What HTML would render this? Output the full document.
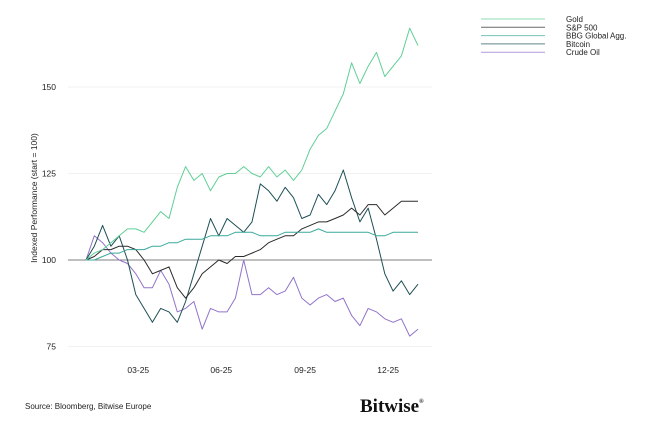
<!DOCTYPE html>
<html><head><meta charset="utf-8"><style>
body{margin:0;background:#fff;font-family:"Liberation Sans",sans-serif}
svg{display:block}
</style></head><body>
<svg id="c" width="671" height="421">
<g id="grid"></g>
<g id="series"></g>
<g id="legend"></g>
<text x="37" y="198" transform="rotate(-90 37 198)" text-anchor="middle" font-size="8.5" fill="#222">Indexed Performance (start = 100)</text>
<text x="25" y="409" font-size="8" fill="#222">Source: Bloomberg, Bitwise Europe</text>
<text x="360" y="412" font-family="Liberation Serif,serif" font-size="19" font-weight="bold" fill="#111">Bitwise<tspan font-size="6" dy="-9">®</tspan></text>
</svg>
<script>
const seriesNames=["Gold","S&P 500","BBG Global Agg.","Bitcoin","Crude Oil"];
const gold=[100,102,103,105,107,109,109,108,111,114,112,121,127,123,125,120,124,125,125,127,125,124,127,124,126,123,126,132,136,138,143,148,157,151,156,160,153,156,159,167,162];
const spx=[100,101,103,103,104,104,103,100,96,97,98,92,89,92,96,98,100,99,101,101,102,103,105,106,107,107,109,110,111,111,112,113,115,113,116,116,113,115,117,117,117];
const agg=[100,100,101,102,102,103,103,103,104,104,105,105,106,106,106,107,107,107,108,108,108,107,107,107,108,108,108,108,109,108,108,108,108,108,108,107,107,108,108,108,108];
const btc=[100,104,110,104,107,100,90,86,82,86,85,82,88,96,104,112,107,112,110,108,111,122,120,117,121,118,112,113,119,116,120,126,118,111,115,106,96,91,94,90,93];
const oil=[100,107,105,102,100,99,96,92,92,97,93,85,86,88,80,86,85,85,89,100,90,90,92,90,91,95,89,87,89,90,88,89,84,81,86,85,83,82,83,78,80];
const yTicks=[75,100,125,150];
const xTickLabels=["03-25","06-25","09-25","12-25"];
const xTickIdx=[6.3,16.3,26.4,36.4];
const colors=["#5fcf96","#2b2b2b","#3aa89c","#1d4f55","#9273c9"];
const NS="http://www.w3.org/2000/svg";
const x=i=>86+i*(418-86)/40;
const y=v=>260-(v-100)*3.46;
function mk(t,a,p){const e=document.createElementNS(NS,t);for(const k in a)e.setAttribute(k,a[k]);p.appendChild(e);return e;}
const grid=document.getElementById('grid');
yTicks.forEach(t=>{
  const l=mk('line',{x1:68,x2:432,y1:y(t),y2:y(t),stroke:t===100?'#555':'#ececec','stroke-width':0.8},grid);
  
  
  const tx=mk('text',{x:56,y:y(t)+3,'text-anchor':'end','font-size':8.5,fill:'#222'},grid);
  tx.textContent=t;
  
  
});
xTickLabels.forEach((lab,k)=>{
  const tx=mk('text',{x:x(xTickIdx[k]),y:373,'text-anchor':'middle','font-size':8.5,fill:'#222'},grid);
  tx.textContent=lab;
  
  
});
const data=[gold,spx,agg,btc,oil];
const sg=document.getElementById('series');
[4,3,1,2,0].forEach(s=>{
  const d=data[s].map((v,i)=>(i?'L':'M')+x(i).toFixed(1)+','+y(v).toFixed(1)).join('');
  const p=mk('path',{d:d,fill:'none',stroke:colors[s],'stroke-width':1,'stroke-linejoin':'round'},sg);
  
  
});
const lg=document.getElementById('legend');
seriesNames.forEach((n,i)=>{
  const g=mk('g',{},lg);
  
  
  mk('line',{x1:481,x2:545,y1:19+i*8.3,y2:19+i*8.3,stroke:colors[i],'stroke-width':1,opacity:0.7},g);
  const t=mk('text',{x:566,y:22+i*8.3,'font-size':8,fill:'#222'},g);
  t.textContent=n;
});
</script>
</body></html>
